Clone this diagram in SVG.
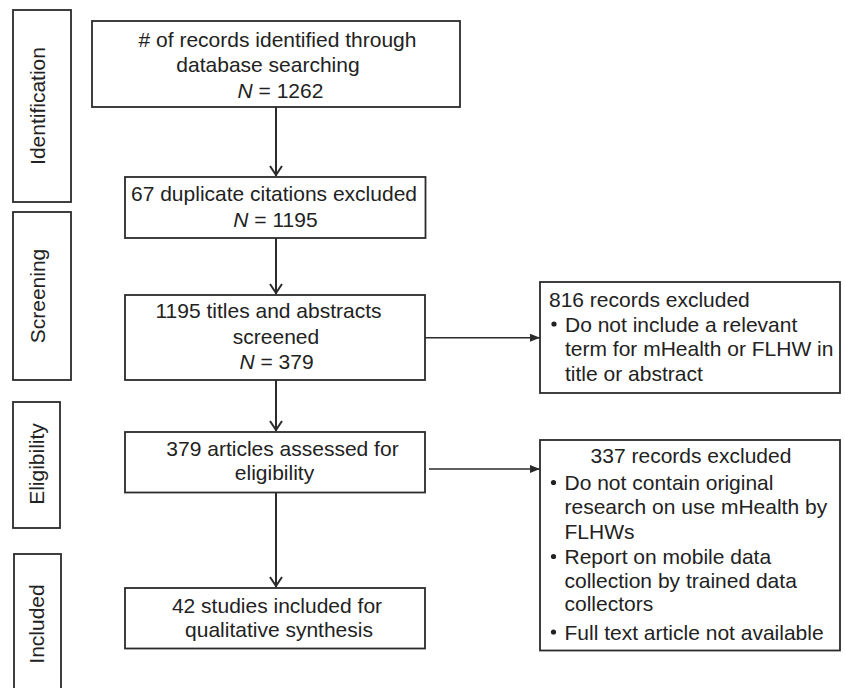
<svg xmlns="http://www.w3.org/2000/svg" width="845" height="688" viewBox="0 0 845 688">
<defs>
<style>
.box{fill:#fff;stroke:#2b2b2b;stroke-width:1.8}
.t{font-family:"Liberation Sans",Arial,sans-serif;font-size:21px;fill:#222}
.c{text-anchor:middle}
.i{font-style:italic}
.ln{stroke:#2b2b2b;stroke-width:2;fill:none}
.hl{stroke:#2b2b2b;stroke-width:1.4;fill:none}
.chev{stroke:#2b2b2b;stroke-width:2;fill:none}
</style>
<marker id="tri" markerWidth="10" markerHeight="8" refX="10" refY="4" orient="auto" markerUnits="userSpaceOnUse">
<path d="M0,0 L10,4 L0,8 Z" fill="#2b2b2b"/>
</marker>
</defs>
<rect width="845" height="688" fill="#fff"/>

<g id="stage-identification">
<rect class="box" x="13" y="10" width="58" height="192"/>
<text class="t c" transform="translate(44.5,106) rotate(-90)">Identification</text>
</g>
<g id="stage-screening">
<rect class="box" x="13" y="212" width="58" height="168"/>
<text class="t c" transform="translate(44.5,296) rotate(-90)">Screening</text>
</g>
<g id="stage-eligibility">
<rect class="box" x="13" y="402" width="47" height="126"/>
<text class="t c" transform="translate(43.5,464) rotate(-90)">Eligibility</text>
</g>
<g id="stage-included">
<rect class="box" x="14" y="554" width="47" height="140"/>
<text class="t c" transform="translate(44,624) rotate(-90)">Included</text>
</g>

<g id="n-identified">
<rect class="box" x="92" y="21" width="368" height="86"/>
<text class="t c" x="277.5" y="46.5"># of records identified through</text>
<text class="t c" x="268" y="71.5">database searching</text>
<text class="t c" x="280.5" y="97.5"><tspan class="i">N</tspan> = 1262</text>
</g>
<g id="n-duplicates">
<rect class="box" x="125" y="177" width="300.5" height="61"/>
<text class="t c" x="274" y="200.5">67 duplicate citations excluded</text>
<text class="t c" x="275.5" y="226.5"><tspan class="i">N</tspan> = 1195</text>
</g>
<g id="n-screened">
<rect class="box" x="125" y="295" width="300" height="85"/>
<text class="t c" x="268.5" y="318">1195 titles and abstracts</text>
<text class="t c" x="276" y="343.5">screened</text>
<text class="t c" x="276.5" y="369"><tspan class="i">N</tspan> = 379</text>
</g>
<g id="n-eligibility">
<rect class="box" x="125" y="432" width="300" height="60.5"/>
<text class="t c" x="282.5" y="456">379 articles assessed for</text>
<text class="t c" x="274.5" y="480">eligibility</text>
</g>
<g id="n-included">
<rect class="box" x="125" y="588" width="300" height="60.5"/>
<text class="t c" x="277" y="612.5">42 studies included for</text>
<text class="t c" x="279" y="636.5">qualitative synthesis</text>
</g>

<g id="n-excluded-816">
<rect class="box" x="540" y="282" width="300" height="111"/>
<text class="t" x="549" y="306.5">816 records excluded</text>
<circle cx="554" cy="324" r="2.6" fill="#222"/>
<text class="t" x="565" y="331.5">Do not include a relevant</text>
<text class="t" x="565" y="356">term for mHealth or FLHW in</text>
<text class="t" x="565" y="381">title or abstract</text>
</g>
<g id="n-excluded-337">
<rect class="box" x="540" y="440" width="300" height="210.5"/>
<text class="t c" x="691" y="463">337 records excluded</text>
<circle cx="553.5" cy="482.5" r="2.6" fill="#222"/>
<text class="t" x="564.5" y="490">Do not contain original</text>
<text class="t" x="564.5" y="513.5">research on use mHealth by</text>
<text class="t" x="564.5" y="539">FLHWs</text>
<circle cx="553.5" cy="556.5" r="2.6" fill="#222"/>
<text class="t" x="564.5" y="563.5">Report on mobile data</text>
<text class="t" x="564.5" y="588">collection by trained data</text>
<text class="t" x="564.5" y="611">collectors</text>
<circle cx="553.5" cy="632" r="2.6" fill="#222"/>
<text class="t" x="564.5" y="639.5">Full text article not available</text>
</g>

<g id="connectors">
<path class="ln" d="M276,107 V176"/>
<path class="chev" d="M270,166 L276,175 L282,166"/>
<path class="ln" d="M276,238 V294"/>
<path class="chev" d="M270,284 L276,293 L282,284"/>
<path class="ln" d="M276,380 V431"/>
<path class="chev" d="M270,421 L276,430 L282,421"/>
<path class="ln" d="M276,492.5 V587"/>
<path class="chev" d="M270,577 L276,586 L282,577"/>
<path class="hl" d="M425,337.7 H540" marker-end="url(#tri)"/>
<path class="hl" d="M429,469 H540" marker-end="url(#tri)"/>
</g>
</svg>
